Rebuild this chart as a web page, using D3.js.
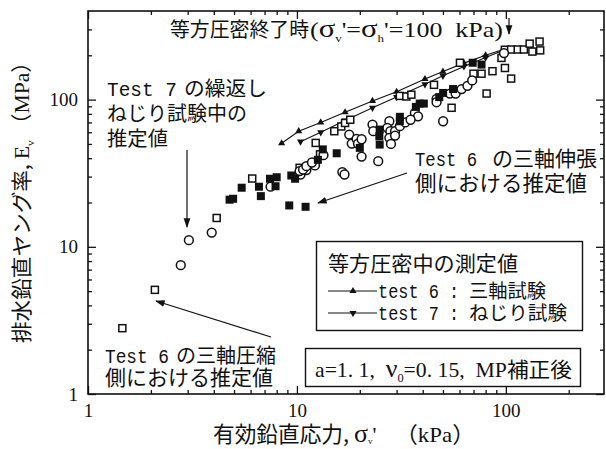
<!DOCTYPE html>
<html>
<head>
<meta charset="utf-8">
<script src="https://cdn.jsdelivr.net/npm/d3@7"></script>
<style>
  body { margin: 0; background: #fff; }
  svg { display: block; }
</style>
</head>
<body>
<svg id="chart" width="606" height="449"></svg>
<script>
// ---- data: effective vertical stress (kPa) vs drained vertical Young's modulus (MPa)
const xMajorTicks = [1, 10, 100];
const xMinorTicks = [2, 3, 4, 5, 6, 7, 8, 9, 20, 30, 40, 50, 60, 70, 80, 90, 200];
const yMajorTicks = [1, 10, 100];
const yMinorTicks = [2, 3, 4, 5, 6, 7, 8, 9, 20, 30, 40, 50, 60, 70, 80, 90, 200, 300];

// Test 6, triaxial compression side (open squares)
const test6Compression = [
  [1.46, 2.8], [2.09, 5.1], [4.13, 15.7], [6.11, 29.1], [10.3, 34.4], [12.3, 50.8],
  [12.9, 42.5], [15.1, 61], [16.3, 65.7], [17.0, 69.4], [18.0, 73], [31.1, 106],
  [33.4, 105], [35.3, 108], [45.3, 126], [55, 88], [60.3, 178], [70, 150], [76.5, 150],
  [80.9, 110], [86.3, 156], [95.3, 192], [99, 164], [106, 139], [98.9, 218], [106, 219],
  [114, 219], [122, 219], [130, 240], [145, 248], [146, 216], [134, 212]
];
// Test 7, cyclic torsional shear (open circles)
const test7Torsion = [
  [2.78, 7.5], [3.04, 11.1], [3.91, 12.5], [7.48, 25.6], [10.4, 31], [11.1, 33.2],
  [12.2, 35.7], [13.4, 41.9], [10.3, 32.7], [10.7, 33.5], [11.1, 35.3], [11.8, 37.4],
  [16.5, 32.2], [16.9, 31.0], [17.8, 57.9], [18.3, 50.3], [19.3, 54.1], [19.6, 50.3],
  [20.4, 53.8], [20.4, 41], [23.0, 67.7], [23.2, 61], [24.5, 38.2], [27.7, 71.3],
  [27.1, 64.3], [28.0, 61], [29.5, 61], [27.7, 55], [28.2, 50], [29.5, 57], [36.7, 81.2],
  [38.0, 77], [46.6, 101], [46.6, 96], [50.1, 71.3], [54, 110], [57.5, 110], [61.4, 118],
  [65.5, 124], [69, 135], [98, 207], [31.1, 66], [33, 70], [35, 73]
];
// Test 6, triaxial extension side (filled squares)
const test6Extension = [
  [4.76, 20.9], [4.95, 21.2], [5.44, 25.2], [6.58, 25.6], [6.72, 22.1], [7.43, 29.0],
  [8.0, 29.7], [7.9, 25.8], [9.19, 19.1], [11.0, 18.7], [9.4, 30.5], [9.8, 29],
  [12.6, 39], [13.3, 45.9], [15.5, 43.2], [20, 47], [24.9, 62.6], [24.8, 56.4],
  [24.9, 49.5], [31.1, 76.4], [31.1, 71.3], [37.1, 89.2], [38.7, 94], [40.5, 94],
  [48, 104], [50.1, 111], [55.9, 118], [69.4, 178], [76.5, 173]
];
// measured during isotropic consolidation
const test6Triaxial = [
  [8.45, 50.5], [10.2, 61], [13, 70], [17, 82], [23, 98], [30, 113], [41, 138],
  [50, 155], [63, 177], [80, 200], [98, 220]
];
const test7Torsional = [
  [10.4, 51.8], [13, 60], [17, 72], [23, 88], [30, 104], [41, 127], [50, 145],
  [63, 168], [80, 193], [98, 217]
];

const svg = d3.select("#chart");
const W = 606, H = 449;
const plotL = 88, plotR = 604, plotT = 11, plotB = 394;

const x = d3.scaleLog().domain([1, 295]).range([plotL, plotR]);
const y = d3.scaleLog().domain([1, 400]).range([plotB, plotT]);

const serif = "'Liberation Serif','Noto Sans CJK JP',serif";
const mono = "'Liberation Mono','Noto Sans CJK JP',monospace";
const jp = "'Noto Sans CJK JP',sans-serif";

svg.append("rect").attr("width", W).attr("height", H).attr("fill", "#fff");

// ---- axes (inward ticks on all four sides)
function styleAxis(g) {
  g.select(".domain").remove();
  g.selectAll("line").attr("stroke", "#111").attr("stroke-width", 1.3);
  g.selectAll("text").attr("font-family", serif).attr("font-size", 19).attr("fill", "#111");
}
svg.append("g").attr("transform", `translate(0,${plotB})`)
  .call(d3.axisBottom(x).tickValues(xMajorTicks).tickSize(-8).tickPadding(10).tickFormat(d3.format("d")))
  .call(styleAxis);
svg.append("g").attr("transform", `translate(0,${plotB})`)
  .call(d3.axisBottom(x).tickValues(xMinorTicks).tickSize(-4).tickFormat(""))
  .call(styleAxis);
svg.append("g").attr("transform", `translate(0,${plotT})`)
  .call(d3.axisTop(x).tickValues(xMajorTicks).tickSize(-8).tickFormat(""))
  .call(styleAxis);
svg.append("g").attr("transform", `translate(0,${plotT})`)
  .call(d3.axisTop(x).tickValues(xMinorTicks).tickSize(-4).tickFormat(""))
  .call(styleAxis);
svg.append("g").attr("transform", `translate(${plotL},0)`)
  .call(d3.axisLeft(y).tickValues(yMajorTicks).tickSize(-8).tickPadding(10).tickFormat(d3.format("d")))
  .call(styleAxis);
svg.append("g").attr("transform", `translate(${plotL},0)`)
  .call(d3.axisLeft(y).tickValues(yMinorTicks).tickSize(-4).tickFormat(""))
  .call(styleAxis);
svg.append("g").attr("transform", `translate(${plotR},0)`)
  .call(d3.axisRight(y).tickValues(yMajorTicks).tickSize(-8).tickFormat(""))
  .call(styleAxis);
svg.append("g").attr("transform", `translate(${plotR},0)`)
  .call(d3.axisRight(y).tickValues(yMinorTicks).tickSize(-4).tickFormat(""))
  .call(styleAxis);

svg.append("rect")
  .attr("x", plotL).attr("y", plotT).attr("width", plotR - plotL).attr("height", plotB - plotT)
  .attr("fill", "none").attr("stroke", "#111").attr("stroke-width", 1.6);

// ---- consolidation lines with triangle markers
const line = d3.line().x(d => x(d[0])).y(d => y(d[1]));
const triUp = d3.symbol().type(d3.symbolTriangle).size(22);
function triangle(sel, down) {
  sel.attr("d", triUp()).attr("fill", "#111")
    .attr("transform", d => `translate(${x(d[0])},${y(d[1])})${down ? " rotate(180)" : ""}`);
}
svg.append("path").datum(test6Triaxial).attr("d", line)
  .attr("fill", "none").attr("stroke", "#111").attr("stroke-width", 1.1);
svg.append("path").datum(test7Torsional).attr("d", line)
  .attr("fill", "none").attr("stroke", "#111").attr("stroke-width", 1.1);
svg.append("g").selectAll("path").data(test6Triaxial).join("path").call(triangle, false);
svg.append("g").selectAll("path").data(test7Torsional).join("path").call(triangle, true);

// ---- scatter
const sq = 7;
svg.append("g").selectAll("rect").data(test6Compression).join("rect")
  .attr("x", d => x(d[0]) - sq / 2).attr("y", d => y(d[1]) - sq / 2)
  .attr("width", sq).attr("height", sq)
  .attr("fill", "#fff").attr("stroke", "#111").attr("stroke-width", 1.5);
svg.append("g").selectAll("circle").data(test7Torsion).join("circle")
  .attr("cx", d => x(d[0])).attr("cy", d => y(d[1])).attr("r", 4.4)
  .attr("fill", "#fff").attr("stroke", "#111").attr("stroke-width", 1.5);
const fsq = 8;
svg.append("g").selectAll("rect").data(test6Extension).join("rect")
  .attr("x", d => x(d[0]) - fsq / 2).attr("y", d => y(d[1]) - fsq / 2)
  .attr("width", fsq).attr("height", fsq).attr("fill", "#111");

// ---- text helpers
function rich(g, x0, y0, parts, opts = {}) {
  const t = g.append("text").attr("x", x0).attr("y", y0)
    .attr("font-family", opts.family || jp).attr("font-size", opts.size || 20)
    .attr("fill", "#111").style("white-space", "pre");
  if (opts.anchor) t.attr("text-anchor", opts.anchor);
  if (opts.length) t.attr("textLength", opts.length).attr("lengthAdjust", "spacingAndGlyphs");
  if (opts.transform) t.attr("transform", opts.transform);
  const drop = opts.drop || 5;
  let shift = 0;
  parts.forEach(p => {
    const s = t.append("tspan").text(p.t);
    if (p.f) s.attr("font-family", p.f);
    if (p.sz) s.attr("font-size", p.sz);
    const want = p.sub ? drop : 0;
    if (want !== shift) { s.attr("dy", want - shift); shift = want; }
  });
  return t;
}
// plain single-font text fitted to a width
function fit(g, x0, y0, str, family, size, len) {
  return g.append("text").attr("x", x0).attr("y", y0)
    .attr("font-family", family).attr("font-size", size).attr("fill", "#111")
    .attr("textLength", len).attr("lengthAdjust", "spacingAndGlyphs").text(str);
}

const defs = svg.append("defs");
defs.append("marker").attr("id", "head").attr("viewBox", "0 0 10 10")
  .attr("refX", 9).attr("refY", 5).attr("markerWidth", 8).attr("markerHeight", 8)
  .attr("orient", "auto-start-reverse")
  .append("path").attr("d", "M0,1.5 L10,5 L0,8.5 Z").attr("fill", "#111");
function arrow(x1, y1, x2, y2) {
  svg.append("line").attr("x1", x1).attr("y1", y1).attr("x2", x2).attr("y2", y2)
    .attr("stroke", "#111").attr("stroke-width", 1.2).attr("marker-end", "url(#head)");
}

// ---- annotations
const ann = svg.append("g");
fit(ann, 170, 37, "等方圧密終了時", jp, 20, 139);
rich(ann, 310, 37, [
  { t: "(" }, { t: "σ", sz: 26 }, { t: "v", sz: 11, sub: true },
  { t: "'=" }, { t: "σ", sz: 26 }, { t: "h", sz: 11, sub: true },
  { t: "'=100  kPa)" }
], { family: serif, size: 22, length: 193 });
arrow(509, 18, 509, 34);

fit(ann, 107, 96, "Test 7", mono, 20, 70);
fit(ann, 184, 96, "の繰返し", jp, 20, 83);
fit(ann, 107, 121, "ねじり試験中の", jp, 20, 140);
fit(ann, 107, 146, "推定値", jp, 20, 61);
arrow(187, 150, 187, 227);

fit(ann, 415, 166, "Test 6", mono, 20, 62);
fit(ann, 492, 166, "の三軸伸張", jp, 21, 105);
fit(ann, 415, 191, "側における推定値", jp, 21.5, 172);
arrow(407, 173, 318, 203);

fit(ann, 105, 363, "Test 6", mono, 20, 64);
fit(ann, 176, 363, "の三軸圧縮", jp, 20.5, 100);
fit(ann, 105, 385, "側における推定値", jp, 21, 168);
arrow(271, 337, 156, 301);

// ---- legend
const lg = svg.append("g");
lg.append("rect").attr("x", 316.5).attr("y", 241.5).attr("width", 266).attr("height", 89)
  .attr("fill", "#fff").attr("stroke", "#111").attr("stroke-width", 1.4);
fit(lg, 328, 271, "等方圧密中の測定値", jp, 21, 190);
const legendRows = [
  { label: "test 6 :", name: "三軸試験", down: false, yy: 291, len: 77 },
  { label: "test 7 :", name: "ねじり試験", down: true, yy: 313, len: 98 }
];
legendRows.forEach(r => {
  lg.append("line").attr("x1", 328).attr("x2", 377).attr("y1", r.yy).attr("y2", r.yy)
    .attr("stroke", "#111").attr("stroke-width", 1.1);
  lg.append("path").attr("d", triUp()).attr("fill", "#111")
    .attr("transform", `translate(353,${r.yy})${r.down ? " rotate(180)" : ""}`);
  fit(lg, 378, r.yy + 7, r.label, mono, 20, 81);
  fit(lg, 469, r.yy + 7, r.name, jp, 19.5, r.len);
});

// ---- parameter box
const pb = svg.append("g");
pb.append("rect").attr("x", 305.5).attr("y", 348.5).attr("width", 275).attr("height", 38)
  .attr("fill", "#fff").attr("stroke", "#111").attr("stroke-width", 1.4);
rich(pb, 315, 377, [
  { t: "a=1. 1,  ", f: serif }, { t: "ν", f: serif, sz: 25 }, { t: "0", f: serif, sz: 12, sub: true },
  { t: "=0. 15,  MP", f: serif }, { t: "補正後" }
], { size: 21, length: 257 });

// ---- axis titles
fit(svg, 213, 442, "有効鉛直応力,", jp, 22, 136);
rich(svg, 354, 442, [
  { t: "σ", sz: 26 }, { t: "v", sz: 9, sub: true }, { t: "'" }
], { family: serif, size: 22, drop: 2 });
fit(svg, 395, 442, "（kPa）", serif, 22, 80);

rich(svg, 0, 0, [
  { t: "排水鉛直ヤング率, " }, { t: "E", f: serif }, { t: "v", f: serif, sz: 11, sub: true },
  { t: " （MPa）", f: serif }
], { size: 21, anchor: "middle", length: 292, transform: "translate(29,197) rotate(-90)" });
</script>
</body>
</html>
